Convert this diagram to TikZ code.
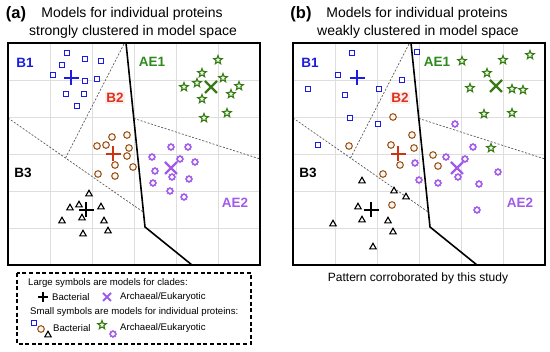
\documentclass[tikz,border=0pt]{standalone}
\usepackage{fontspec}
\setmainfont{Liberation Sans}
\usepackage{tikz}
\usetikzlibrary{shapes.geometric, positioning, calc}

\definecolor{bblue}{HTML}{1C1CE0}
\definecolor{aegreen}{HTML}{2E8A1E}
\definecolor{stargreen}{HTML}{3A7A14}
\definecolor{b2red}{HTML}{D8341C}
\definecolor{plusred}{HTML}{CC3311}
\definecolor{aepurple}{HTML}{A15BEA}
\definecolor{cbrown}{HTML}{9C5A1E}

\begin{document}
\begin{tikzpicture}[
		x=1pt, y=-1pt,
		gridline/.style={draw=black!13, line width=0.8pt},
		border/.style={draw=black, line width=1.3pt},
		divider/.style={draw=black, line width=1.6pt, line join=round},
		boundary/.style={draw=black!65, line width=0.7pt, dash pattern=on 2pt off 1.6pt},
		bsq/.style={draw=bblue, fill=white, rectangle, line width=1.1pt, minimum size=5.6pt, inner sep=0pt},
		bcirc/.style={draw=cbrown, fill=pink!15, circle, line width=1.1pt, minimum size=6.6pt, inner sep=0pt},
		btri/.style={draw=black, fill=white, regular polygon, regular polygon sides=3, line width=1.1pt, minimum size=7.4pt, inner sep=0pt},
		aestar/.style={draw=stargreen, fill=green!12, star, star points=5, star point ratio=2.3, line width=1.1pt, minimum size=9pt, inner sep=0pt},
		region/.style={font=\bfseries\fontsize{13.5}{15}\selectfont, inner sep=1pt},
		title/.style={font=\fontsize{14}{16}\selectfont},
		tag/.style={font=\bfseries\fontsize{16.5}{18}\selectfont},
		legtext/.style={font=\fontsize{9.6}{11}\selectfont, anchor=west, inner sep=0pt},
		bigplus/.pic={\draw[line width=2.6pt] (-7.5,0) -- (7.5,0) (0,-7.5) -- (0,7.5);},
		bigcross/.pic={\draw[line width=2.4pt] (-6,-6) -- (6,6) (-6,6) -- (6,-6);},
		smallplus/.pic={\draw[line width=2pt] (-5,0) -- (5,0) (0,-5) -- (0,5);},
		smallcross/.pic={\draw[line width=1.8pt] (-4,-4) -- (4,4) (-4,4) -- (4,-4);},
		flower/.pic={\foreach \a in {0,45,...,315} \fill[aepurple] (\a:2.7pt) circle (1.45pt);
			\fill[white] (0,0) circle (1.9pt);}
		]
		
		\useasboundingbox (0,0) rectangle (550,352);
		
		% Panels
		\foreach \dx/\p/\how in {0/a/strongly, 285/b/weakly} {
			\begin{scope}[xshift=\dx]
				\foreach \i in {1,...,5} {
					\draw[gridline] ({8+42*\i},43) -- ({8+42*\i},265);
					\draw[gridline] (8,{43+37*\i}) -- (260,{43+37*\i});
				}
				\coordinate (\p-top) at (126,43);
				\coordinate (\p-mid) at (145,227);
				\coordinate (\p-bot) at (192,265);
				\coordinate (\p-b2) at (65,159);
				\draw[boundary] (124,44) -- (\p-b2);
				\draw[boundary] (8,118) -- ($(\p-top)!0.92!(\p-mid)$);
				\draw[boundary] ($(\p-top)!0.41!(\p-mid)$) -- (260,159);
				\draw[divider] (\p-top) -- (\p-mid) -- (\p-bot);
				\draw[border] (8,43) rectangle (260,265);
				
				\node[region, text=bblue] (\p-b1) at (25,63) {B1};
				\node[region, text=aegreen] (\p-ae1) at (152,62) {AE1};
				\node[region, text=b2red, fill=pink!30] (\p-b2lab) at (115,98) {B2};
				\node[region, text=black] (\p-b3) at (23,173) {B3};
				\node[region, text=aepurple] (\p-ae2) at (235,203) {AE2};
				
				\node[tag] (\p-tag) at (16,14) {(\p)};
				\node[title] (\p-title) at (132,14) {Models for individual proteins};
				\node[title] (\p-sub) at (133,32) {\how\ clustered in model space};
			\end{scope}
		}
		
		% Panel (a): strongly clustered
		\foreach \x/\y [count=\i] in {67/53,85/59,101/61,62/65,53/75,85/81,97/79,66/94,84/94,77/106}
			\node[bsq] (a-sq\i) at (\x,\y) {};
		\foreach \x/\y [count=\i] in {218/60,202/73,223/78,197/83,184/87,239/86,231/94,202/99,227/113,204/118}
			\node[aestar] (a-st\i) at (\x,\y) {};
		\foreach \x/\y [count=\i] in {112/137,127/135,97/146,106/145,129/148,127/156,115/165,133/167,98/174,115/176}
			\node[bcirc] (a-ci\i) at (\x,\y) {};
		\foreach \x/\y in {171/147,188/147,152/157,180/159,195/162,155/171,172/177,189/179,153/183,170/191,184/197}
			\pic at (\x,\y) {flower};
		\foreach \x/\y [count=\i] in {89/194,70/208,79/205,101/207,82/218,62/221,104/221,83/234,108/231}
			\node[btri] (a-tr\i) at (\x,\y) {};
		\pic[bblue] at (71,78) {bigplus};
		\pic[plusred] at (113,154) {bigplus};
		\pic[black] at (86,210) {bigplus};
		\pic[stargreen] at (211,87) {bigcross};
		\pic[aepurple] at (171,168) {bigcross};
		
		% Panel (b): weakly clustered
		\foreach \x/\y [count=\i] in {352/53,417/52,338/75,402/80,308/89,345/95,379/89,350/118,378/124,318/145}
			\node[bsq] (b-sq\i) at (\x,\y) {};
		\foreach \x/\y [count=\i] in {462/61,503/60,530/55,487/73,470/88,512/89,523/90,484/114,512/113,491/148}
			\node[aestar] (b-st\i) at (\x,\y) {};
		\foreach \x/\y [count=\i] in {393/117,412/135,349/146,391/145,414/148,433/155,400/165,438/166,383/174,392/205}
			\node[bcirc] (b-ci\i) at (\x,\y) {};
		\foreach \x/\y in {455/124,473/147,446/157,465/159,415/163,498/172,419/180,438/183,458/177,479/184,477/210}
			\pic at (\x,\y) {flower};
		\foreach \x/\y [count=\i] in {362/181,394/191,406/197,358/207,362/220,388/221,333/224,393/232,373/247}
			\node[btri] (b-tr\i) at (\x,\y) {};
		\pic[bblue] at (357,78) {bigplus};
		\pic[plusred] at (398,154) {bigplus};
		\pic[black] at (371,210) {bigplus};
		\pic[stargreen] at (496,86) {bigcross};
		\pic[aepurple] at (457,168) {bigcross};
		
		\node[font=\fontsize{12}{14}\selectfont] (b-note) at (418,278) {Pattern corroborated by this study};
		
		% Legend
		\draw[line width=1.2pt, dash pattern=on 4pt off 2.6pt] (17,273) rectangle (251,344);
		\node[legtext] (leg-large) at (28,283) {Large symbols are models for clades:};
		\pic[black] at (43,297) {smallplus};
		\node[legtext] (leg-bac1) at (52,297) {Bacterial};
		\pic[aepurple] at (107,297) {smallcross};
		\node[legtext] (leg-ae1) at (120,297) {Archaeal/Eukaryotic};
		\node[legtext] (leg-small) at (30,312) {Small symbols are models for individual proteins:};
		\node[bsq] (leg-sq) at (34,323) {};
		\node[bcirc] (leg-ci) at (41,329) {};
		\node[btri] (leg-tr) at (48,335) {};
		\node[legtext] (leg-bac2) at (53,328) {Bacterial};
		\node[aestar] (leg-st) at (102,325) {};
		\pic at (113,334) {flower};
		\node[legtext] (leg-ae2) at (120,328) {Archaeal/Eukaryotic};
		
	\end{tikzpicture}
\end{document}
